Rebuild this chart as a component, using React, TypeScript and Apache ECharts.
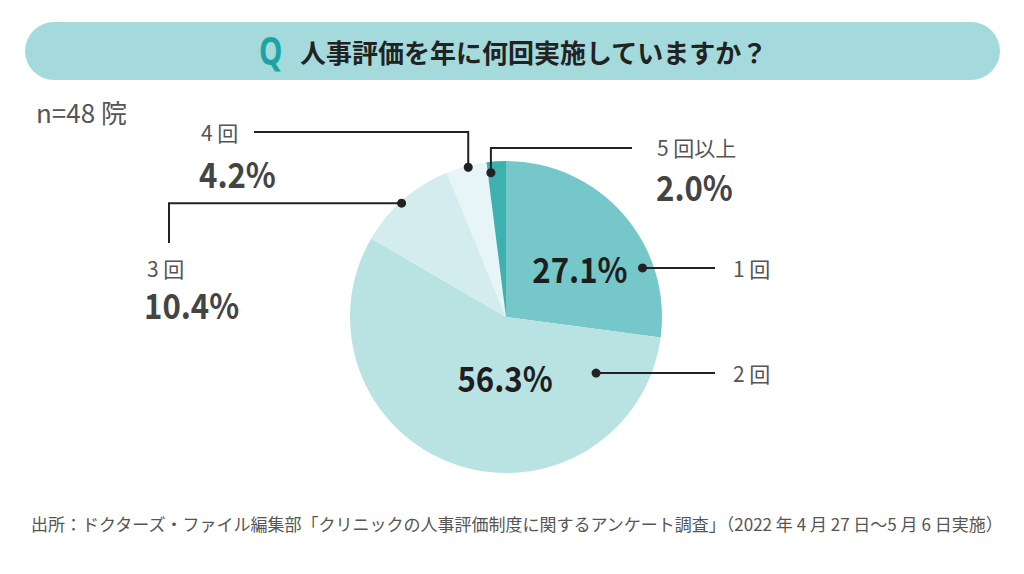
import React, { useEffect, useRef } from "react";
import * as echarts from "echarts";

const categories = ["1回", "2回", "3回", "4回", "5回以上"];
const percentages = [27.1, 56.3, 10.4, 4.2, 2.0];
const sliceColors = ["#75c7c9", "#b9e2e3", "#d3edee", "#e7f5f6", "#3db0b0"];
const titleText = "人事評価を年に何回実施していますか？";
const sampleNote = "n=48 院";
const sourceNote =
  "出所：ドクターズ・ファイル編集部「クリニックの人事評価制度に関するアンケート調査」（2022 年 4 月 27 日～5 月 6 日実施）";

const CX = 506;
const CY = 317;
const R = 156;
const JP = '"Noto Sans CJK JP", "Noto Sans", sans-serif';

// anchor: position inside slice (t: 0..1 along the arc, rf: fraction of radius)
const anchors = [
  { t: 0.72, rf: 0.93 },
  { t: 0.12, rf: 0.68 },
  { t: 0.46, rf: 0.99 },
  { t: 0.54, rf: 0.99 },
  { t: 0.17, rf: 0.93 },
];

function anchorPoint(i: number) {
  const total = percentages.reduce((a, b) => a + b, 0);
  let cum = 0;
  for (let k = 0; k < i; k++) cum += percentages[k];
  const frac = (cum + percentages[i] * anchors[i].t) / total;
  const th = frac * Math.PI * 2;
  const r = R * anchors[i].rf;
  return [CX + r * Math.sin(th), CY - r * Math.cos(th)];
}

const displayName = (s: string) => s.replace(/^(\d)/, "$1 ");
const pctText = (v: number) => v.toFixed(1) + "%";

export default function App() {
  const ref = useRef<HTMLDivElement>(null);
  useEffect(() => {
    if (!ref.current) return;
    const chart = echarts.init(ref.current, null, { renderer: "svg" });
    const g: any[] = [];
    const lineStyle = { stroke: "#222", lineWidth: 2, fill: "none" };
    const dot = (p: number[]) => ({
      type: "circle",
      shape: { cx: p[0], cy: p[1], r: 4.5 },
      style: { fill: "#222" },
      z: 10,
    });
    const txt = (x: number, y: number, text: string, o: any, sx = 1) => ({
      type: "text",
      x,
      y,
      scaleX: sx,
      z: 10,
      style: { text, verticalAlign: "middle", fontFamily: JP, ...o },
    });
    const nameStyle = { fontSize: 21, fill: "#555", align: "left" };
    const pctOuter = { fontSize: 35, fontWeight: "bold", fill: "#444", align: "left" };
    const pctInner = { fontSize: 35, fontWeight: "bold", fill: "#1e1e1e" };
    const SX = 0.89;

    // 1回
    {
      const p = anchorPoint(0);
      g.push(dot(p));
      g.push({ type: "polyline", shape: { points: [p, [715, p[1]]] }, style: lineStyle, z: 10 });
      g.push(txt(p[0] - 15, p[1], pctText(percentages[0]), { ...pctInner, align: "right" }, SX));
      g.push(txt(733, p[1], displayName(categories[0]), nameStyle));
    }
    // 2回
    {
      const p = anchorPoint(1);
      g.push(dot(p));
      g.push({ type: "polyline", shape: { points: [p, [715, p[1]]] }, style: lineStyle, z: 10 });
      g.push(txt(505, p[1] + 4, pctText(percentages[1]), { ...pctInner, align: "center" }, SX));
      g.push(txt(733, p[1], displayName(categories[1]), nameStyle));
    }
    // 3回
    {
      const p = anchorPoint(2);
      g.push(dot(p));
      g.push({ type: "polyline", shape: { points: [p, [169, p[1]], [169, 243]] }, style: lineStyle, z: 10 });
      g.push(txt(147, 268, displayName(categories[2]), nameStyle));
      g.push(txt(144, 304, pctText(percentages[2]), pctOuter, SX));
    }
    // 4回
    {
      const p = anchorPoint(3);
      g.push(dot(p));
      g.push({ type: "polyline", shape: { points: [p, [p[0], 132], [254, 132]] }, style: lineStyle, z: 10 });
      g.push(txt(201, 132, displayName(categories[3]), nameStyle));
      g.push(txt(199, 173, pctText(percentages[3]), pctOuter, SX));
    }
    // 5回以上
    {
      const p = anchorPoint(4);
      g.push(dot(p));
      g.push({ type: "polyline", shape: { points: [p, [p[0], 148], [632, 148]] }, style: lineStyle, z: 10 });
      g.push(txt(657, 147, displayName(categories[4]), nameStyle));
      g.push(txt(656, 186, pctText(percentages[4]), pctOuter, SX));
    }

    chart.setOption({
      animation: false,
      backgroundColor: "#ffffff",
      graphic: [
        {
          type: "rect",
          shape: { x: 25, y: 22, width: 975, height: 58, r: 29 },
          style: { fill: "#a4dadb" },
        },
        {
          type: "text",
          x: 259,
          y: 49,
          scaleX: 0.74,
          style: {
            text: "Q",
            fontFamily: '"Noto Sans", sans-serif',
            fontSize: 40,
            fontWeight: "bold",
            fill: "#1ea3a4",
            verticalAlign: "middle",
          },
        },
        {
          type: "text",
          x: 300,
          y: 51,
          style: {
            text: titleText,
            fontFamily: JP,
            fontSize: 26,
            fontWeight: "bold",
            fill: "#222",
            verticalAlign: "middle",
          },
        },
        {
          type: "text",
          x: 36,
          y: 111,
          style: { text: sampleNote, fontFamily: JP, fontSize: 26, fill: "#555", verticalAlign: "middle" },
        },
        {
          type: "text",
          x: 31,
          y: 523,
          style: { text: sourceNote, fontFamily: JP, fontSize: 17, fill: "#555", verticalAlign: "middle" },
        },
        ...g,
      ],
      series: [
        {
          type: "pie",
          center: [CX, CY],
          radius: [0, R],
          startAngle: 90,
          clockwise: true,
          silent: true,
          label: { show: false },
          labelLine: { show: false },
          itemStyle: { borderWidth: 0 },
          data: categories.map((c, i) => ({
            name: c,
            value: percentages[i],
            itemStyle: { color: sliceColors[i] },
          })),
        },
      ],
    });
    return () => chart.dispose();
  }, []);
  return (
    <div
      ref={ref}
      style={{ position: "fixed", left: 0, top: 0, width: 1024, height: 574, background: "#fff" }}
    />
  );
}
